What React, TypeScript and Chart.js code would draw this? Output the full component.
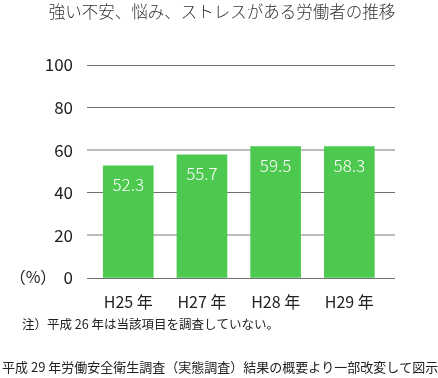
import React, { useEffect, useRef } from "react";
import { Chart, registerables } from "chart.js";

Chart.register(...registerables);

const categories = ["H25 年", "H27 年", "H28 年", "H29 年"];
// printed values
const valueLabels = ["52.3", "55.7", "59.5", "58.3"];
// bar heights as drawn in the picture
const drawnHeights = [52.7, 57.8, 61.7, 61.7];
const yTicks = [0, 20, 40, 60, 80, 100];

const titleText = "強い不安、悩み、ストレスがある労働者の推移";
const unitText = "（%）";
const noteText = "注）平成 26 年は当該項目を調査していない。";
const sourceText = "平成 29 年労働安全衛生調査（実態調査）結果の概要より一部改変して図示";

const FONT = '"Noto Sans CJK JP", "Noto Sans", sans-serif';
const GREEN = "#4dc94f";

const textPlugin = {
  id: "texts",
  afterDraw(chart: any) {
    const ctx = chart.ctx;
    const ys = chart.scales.y;
    ctx.save();
    ctx.textBaseline = "middle";
    // title
    ctx.fillStyle = "#333";
    ctx.font = `300 16.5px ${FONT}`;
    ctx.textAlign = "center";
    ctx.fillText(titleText, 222, 12);
    // unit
    ctx.fillStyle = "#222";
    ctx.font = `400 16px ${FONT}`;
    ctx.fillText(unitText, 33, ys.getPixelForValue(0) - 1);
    // note
    ctx.textAlign = "left";
    ctx.font = `400 12.5px ${FONT}`;
    ctx.fillText(noteText, 22, 324);
    // source
    ctx.font = `400 13px ${FONT}`;
    ctx.fillText(sourceText, 2, 367);
    // value labels in bars
    ctx.fillStyle = "#ffffff";
    ctx.font = `300 17px ${FONT}`;
    ctx.textAlign = "center";
    const meta = chart.getDatasetMeta(0);
    meta.data.forEach((bar: any, i: number) => {
      ctx.fillText(valueLabels[i], bar.x, bar.y + 19);
    });
    ctx.restore();
  },
};

export default function App() {
  const ref = useRef<HTMLCanvasElement | null>(null);
  useEffect(() => {
    if (!ref.current) return;
    const chart = new Chart(ref.current, {
      type: "bar",
      data: {
        datasets: [
          {
            data: drawnHeights.map((v, i) => ({ x: i, y: v })),
            backgroundColor: GREEN,
            borderWidth: 0,
            barThickness: 50,
          },
        ],
      },
      options: {
        animation: false,
        responsive: false,
        maintainAspectRatio: false,
        layout: { padding: { top: 65, left: 0, right: 43, bottom: 0 } },
        plugins: {
          legend: { display: false },
          tooltip: { enabled: false },
          title: { display: false },
        },
        scales: {
          x: {
            type: "linear",
            offset: false,
            min: -0.56,
            max: 3.62,
            afterBuildTicks: (axis: any) => {
              axis.ticks = categories.map((_, i) => ({ value: i }));
            },
            afterFit: (scale: any) => {
              scale.height = 100;
            },
            grid: { display: false, drawTicks: false, offset: false },
            border: { display: false },
            ticks: {
              padding: 14,
              color: "#222",
              font: { family: FONT, size: 16, weight: "400" },
              callback: (v: any) => categories[v] ?? "",
              maxRotation: 0,
              autoSkip: false,
            },
          },
          y: {
            min: 0,
            max: 100,
            afterBuildTicks: (axis: any) => {
              axis.ticks = yTicks.map((v) => ({ value: v }));
            },
            afterFit: (scale: any) => {
              scale.width = 87;
            },
            border: { display: false },
            grid: {
              drawTicks: false,
              color: (c: any) =>
                c.tick && (c.tick.value === 60 || c.tick.value === 20) ? "#bdbdbd" : "#707070",
              lineWidth: (c: any) =>
                c.tick && (c.tick.value === 60 || c.tick.value === 20) ? 2 : 1,
            },
            ticks: {
              padding: 14,
              color: "#222",
              font: { family: FONT, size: 17, weight: "400" },
            },
          },
        },
      },
      plugins: [textPlugin],
    });
    return () => chart.destroy();
  }, []);
  return (
    <div style={{ position: "fixed", left: 0, top: 0, width: 438, height: 378, background: "#fff" }}>
      <canvas ref={ref} width={438} height={378} style={{ width: 438, height: 378 }} />
    </div>
  );
}
